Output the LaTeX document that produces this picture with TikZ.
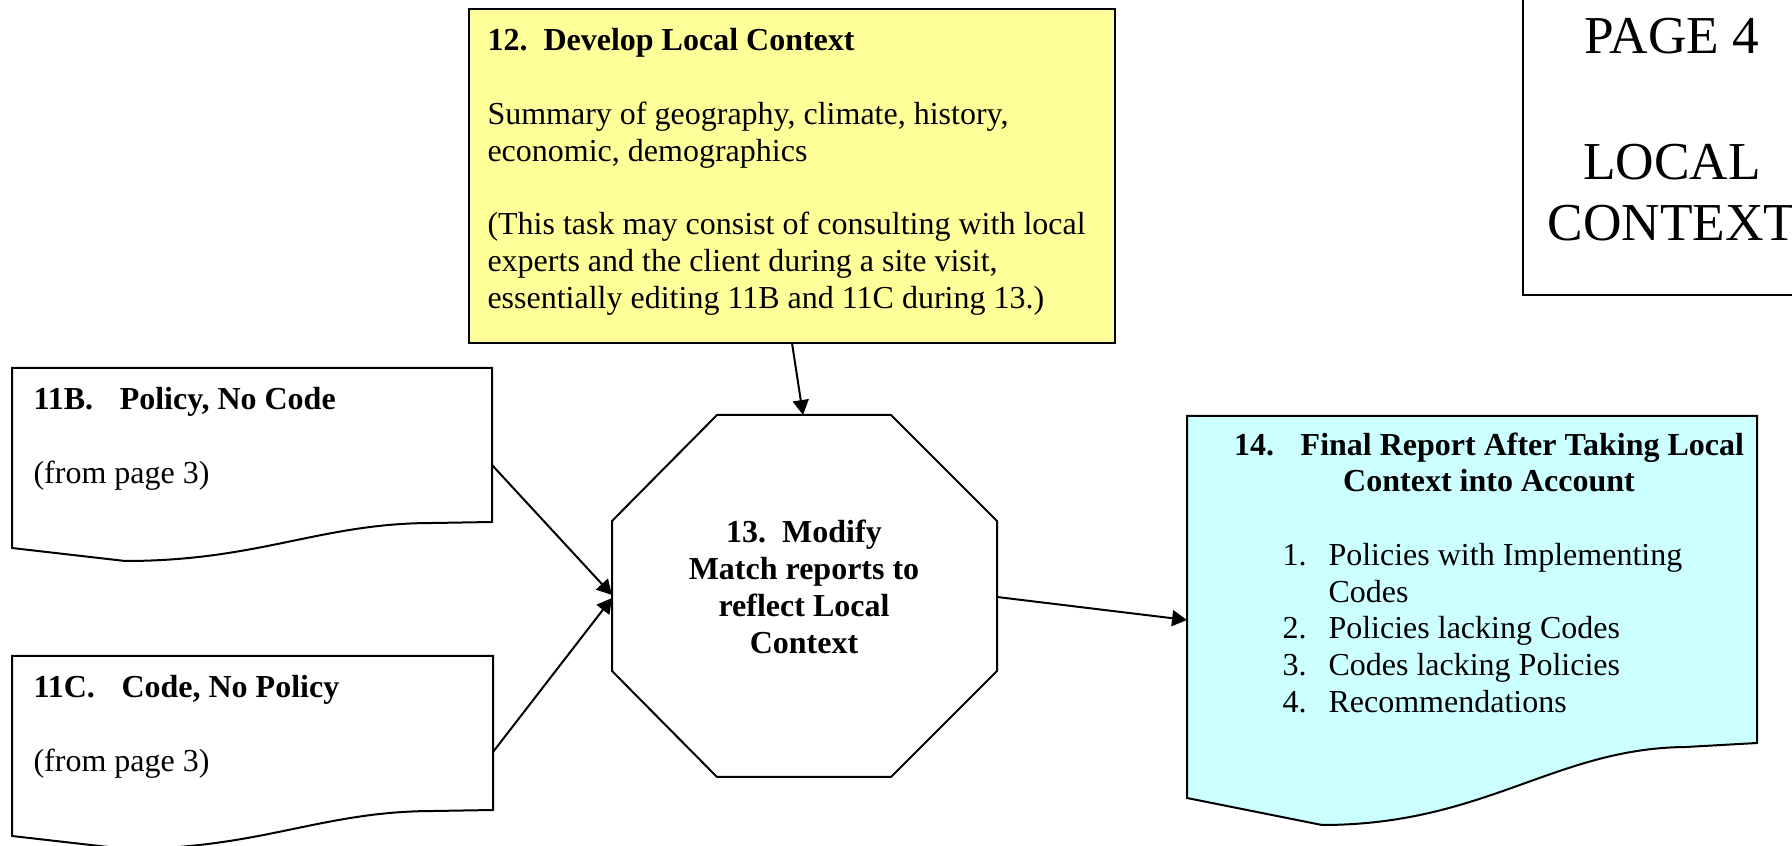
\documentclass[tikz,border=0pt]{standalone}
\usepackage{fontspec}
\setmainfont{Liberation Serif}
\usetikzlibrary{arrows.meta}

\definecolor{notepad}{HTML}{FFFF99}
\definecolor{reportcyan}{HTML}{CCFFFF}

\tikzset{
  outline/.style={line width=0.75pt, draw=black},
  link/.style={line width=0.75pt, -{Triangle[length=5.6pt,width=6pt]}},
  txt/.style={inner sep=0pt, font=\fontsize{12}{13.8}\selectfont},
}

\begin{document}
\begin{tikzpicture}[x=0.375pt, y=-0.375pt]
    \useasboundingbox (0,0) rectangle (1792,846);

    % Page label in the corner
    \draw[outline] (1523,-20) rectangle (1840,295);
    \node[inner sep=0pt, anchor=north, align=center, font=\fontsize{20}{23}\selectfont] (pagelbl) at (1672,18)
        {PAGE 4\\[24pt]LOCAL\\CONTEXT};

    % 12. develop local context
    \draw[outline, fill=notepad] (469,9) rectangle (1115,343);
    \node[txt, anchor=north west, align=left] (dev) at (487,28)
        {\textbf{12.\ \ Develop Local Context}\\[13.8pt]
         Summary of geography, climate, history,\\
         economic, demographics\\[13.8pt]
         (This task may consist of consulting with local\\
         experts and the client during a site visit,\\
         essentially editing 11B and 11C during 13.)};

    % 11B and 11C documents
    \draw[outline, fill=white] (12,368) -- (492,368) -- (492,522) -- (433,523)
        .. controls (320,523) and (260,561) .. (125,561) -- (12,548) -- cycle;
    \node[txt, anchor=north west, align=left] (pol) at (33,387)
        {\textbf{11B.\hspace{10pt}Policy, No Code}\\[13.8pt](from page 3)};

    \draw[outline, fill=white] (12,656) -- (493,656) -- (493,810) -- (434,811)
        .. controls (321,811) and (261,849) .. (126,849) -- (12,836) -- cycle;
    \node[txt, anchor=north west, align=left] (code) at (33,675)
        {\textbf{11C.\hspace{10pt}Code, No Policy}\\[13.8pt](from page 3)};

    % 13. octagon
    \draw[outline, fill=white] (717,415) -- (891,415) -- (997,521) -- (997,671)
        -- (891,777) -- (717,777) -- (612,671) -- (612,521) -- cycle;
    \node[txt, align=center, font=\fontsize{12}{13.8}\selectfont\bfseries] (mod) at (804,587)
        {13.\ \ Modify\\Match reports to\\reflect Local\\Context};

    % 14. final report
    \draw[outline, fill=reportcyan] (1187,416) -- (1757,416) -- (1757,743) -- (1686,747)
        .. controls (1555,748) and (1485,825) .. (1322,825) -- (1187,798) -- cycle;
    \node[txt, anchor=north, align=center, font=\fontsize{12}{13.8}\selectfont\bfseries] (rep) at (1489,432)
        {14.\hspace{10pt}Final Report After Taking Local\\Context into Account};
    \node[txt, anchor=north west] (replist) at (1282,539)
        {\begin{tabular}{@{}p{17.25pt}@{}l@{}}
         1. & Policies with Implementing\\
            & Codes\\
         2. & Policies lacking Codes\\
         3. & Codes lacking Policies\\
         4. & Recommendations
         \end{tabular}};

    % connector ends
    \coordinate (dev-s) at (792,343);
    \coordinate (mod-n) at (803,415);
    \coordinate (pol-e) at (492,465);
    \coordinate (mod-w1) at (612,595);
    \coordinate (code-e) at (493,752);
    \coordinate (mod-w2) at (612,598);
    \coordinate (mod-e) at (997,597);
    \coordinate (rep-w) at (1187,620);

    \draw[link] (dev-s) -- (mod-n);
    \draw[link] (pol-e) -- (mod-w1);
    \draw[link] (code-e) -- (mod-w2);
    \draw[link] (mod-e) -- (rep-w);

\end{tikzpicture}
\end{document}
